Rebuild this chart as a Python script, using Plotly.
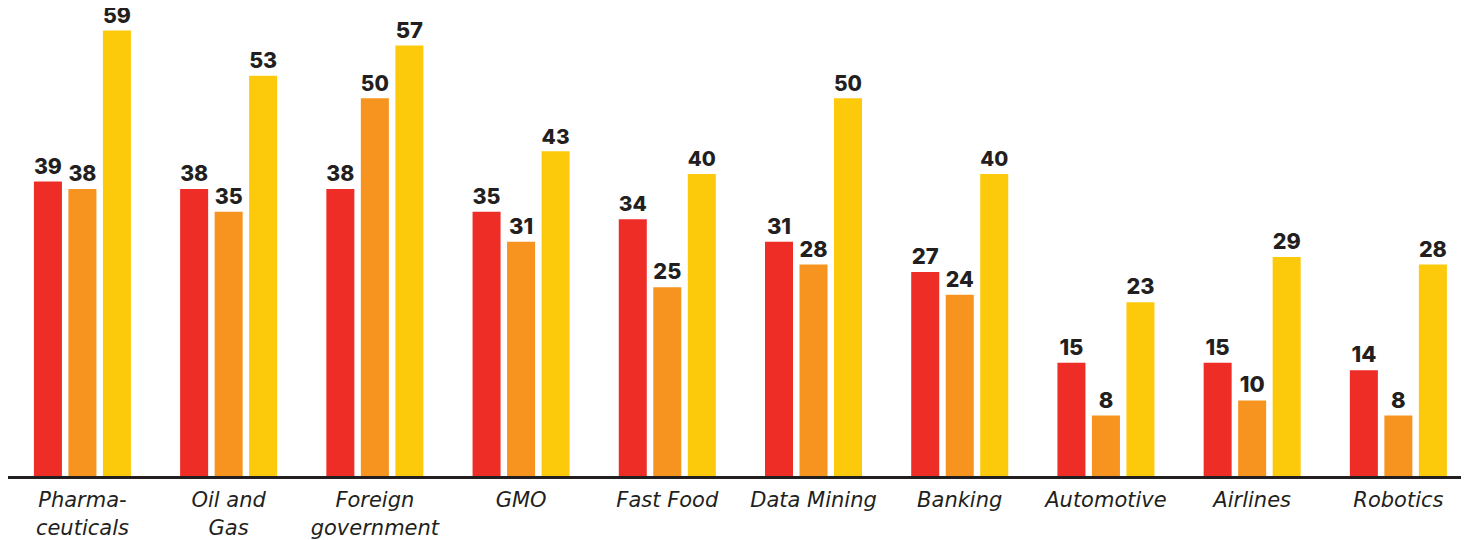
import plotly.graph_objects as go

# --- Data ---
categories = ["Pharma-<br>ceuticals", "Oil and<br>Gas", "Foreign<br>government", "GMO",
              "Fast Food", "Data Mining", "Banking", "Automotive", "Airlines", "Robotics"]
red_vals = [39, 38, 38, 35, 34, 31, 27, 15, 15, 14]
orange_vals = [38, 35, 50, 31, 25, 28, 24, 8, 10, 8]
yellow_vals = [59, 53, 57, 43, 40, 50, 40, 23, 29, 28]

series = [
    ("red", red_vals, "#EE2D27"),
    ("orange", orange_vals, "#F6941F"),
    ("yellow", yellow_vals, "#FCCA0A"),
]

fig = go.Figure()
for name, vals, color in series:
    fig.add_trace(go.Bar(
        x=categories, y=vals, name=name,
        marker=dict(color=color, line=dict(width=0)),
        text=vals, textposition="outside", cliponaxis=False,
        textfont=dict(family="Inter", size=22, color="#231F20", weight=800),
    ))

# page body adds 8px around the figure, so the figure is sized to fit the window
fig.update_layout(
    width=1461, height=532,
    margin=dict(l=0, r=0, t=2, b=64),
    paper_bgcolor="white", plot_bgcolor="white",
    barmode="group", bargap=0.292, bargroupgap=0.188,
    showlegend=False,
)
fig.update_xaxes(
    range=[-0.509, 9.483],
    showline=True, linecolor="#231F20", linewidth=3,
    ticks="", showgrid=False, ticklabelstandoff=3,
    tickfont=dict(family="DejaVu Sans", size=21, color="#231F20", style="italic"),
)
fig.update_yaxes(range=[0, 61.7], visible=False, showgrid=False, zeroline=False)

fig.write_html("out.html")
